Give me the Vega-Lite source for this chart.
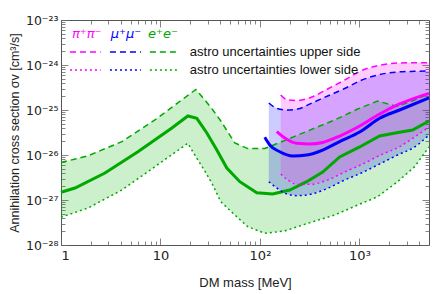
{
  "$schema": "https://vega.github.io/schema/vega-lite/v6.json",
  "width": 368,
  "height": 225,
  "autosize": {"type": "none"},
  "padding": {"left": 61, "top": 20, "right": 7, "bottom": 49},
  "config": {
    "font": "Liberation Sans",
    "view": {"stroke": "#555555", "strokeWidth": 1},
    "axis": {"grid": false, "domain": false, "tickColor": "#666666", "tickWidth": 0.8, "labelColor": "#222222", "titleColor": "#222222", "labelFont": "Liberation Sans", "titleFont": "Liberation Sans", "titleFontWeight": "normal"}
  },
  "datasets": {
    "greenBand": [
      {"m": 1, "lo": 4.13e-28, "hi": 6.8e-27},
      {"m": 1.867, "lo": 6.64e-28, "hi": 9.6e-27},
      {"m": 4.097, "lo": 1.67e-27, "hi": 1.98e-26},
      {"m": 8.787, "lo": 5.50e-27, "hi": 6.0e-26},
      {"m": 18.84, "lo": 1.82e-26, "hi": 2.11e-25},
      {"m": 22.67, "lo": 9.17e-27, "hi": 2.86e-25},
      {"m": 27.92, "lo": 4.41e-27, "hi": 1.67e-25},
      {"m": 33.58, "lo": 2.15e-27, "hi": 1.0e-25},
      {"m": 40.41, "lo": 9.16e-28, "hi": 5.70e-26},
      {"m": 55.85, "lo": 4.64e-28, "hi": 1.85e-26},
      {"m": 75.43, "lo": 2.55e-28, "hi": 1.39e-26},
      {"m": 111.7, "lo": 1.82e-28, "hi": 1.39e-26},
      {"m": 177.4, "lo": 2.05e-28, "hi": 2.10e-26},
      {"m": 302, "lo": 3.03e-28, "hi": 3.42e-26},
      {"m": 563.6, "lo": 4.64e-28, "hi": 6.0e-26},
      {"m": 959.2, "lo": 7.74e-28, "hi": 1.05e-25},
      {"m": 1523, "lo": 1.18e-27, "hi": 1.58e-25},
      {"m": 2418, "lo": 2.55e-27, "hi": 1.20e-25},
      {"m": 3583, "lo": 5.50e-27, "hi": 1.67e-25},
      {"m": 5000, "lo": 1.51e-26, "hi": 2.27e-25}
    ],
    "greenMid": [
      {"m": 1, "v": 1.483e-27},
      {"m": 1.382, "v": 1.849e-27},
      {"m": 2.766, "v": 3.98e-27},
      {"m": 5.932, "v": 1.183e-26},
      {"m": 13.02, "v": 3.98e-26},
      {"m": 18.84, "v": 7.36e-26},
      {"m": 23.2, "v": 6.54e-26},
      {"m": 29.24, "v": 3.08e-26},
      {"m": 36.85, "v": 1.29e-26},
      {"m": 46.42, "v": 5.14e-27},
      {"m": 62.69, "v": 2.55e-27},
      {"m": 92.88, "v": 1.45e-27},
      {"m": 134.4, "v": 1.36e-27},
      {"m": 199.2, "v": 1.67e-27},
      {"m": 250.9, "v": 2.15e-27},
      {"m": 295.1, "v": 2.55e-27},
      {"m": 427.0, "v": 4.19e-27},
      {"m": 632.6, "v": 9.03e-27},
      {"m": 1004.6, "v": 1.51e-26},
      {"m": 1595, "v": 2.64e-26},
      {"m": 2363, "v": 3.13e-26},
      {"m": 3421, "v": 3.59e-26},
      {"m": 5000, "v": 5.70e-26}
    ],
    "blueBand": [
      {"m": 122.6, "lo": 2.55e-27, "hi": 1.43e-25},
      {"m": 147.5, "lo": 1.85e-27, "hi": 1.09e-25},
      {"m": 185.8, "lo": 1.36e-27, "hi": 1.0e-25},
      {"m": 239.6, "lo": 1.25e-27, "hi": 1.05e-25},
      {"m": 323.6, "lo": 1.34e-27, "hi": 1.39e-25},
      {"m": 479.3, "lo": 1.82e-27, "hi": 2.05e-25},
      {"m": 710.2, "lo": 2.78e-27, "hi": 3.0e-25},
      {"m": 1028, "lo": 3.92e-27, "hi": 4.52e-25},
      {"m": 1523, "lo": 6.0e-27, "hi": 6.0e-25},
      {"m": 2418, "lo": 1.0e-26, "hi": 6.99e-25},
      {"m": 3583, "lo": 1.51e-26, "hi": 7.24e-25},
      {"m": 5000, "lo": 2.78e-26, "hi": 7.36e-25}
    ],
    "blueMid": [
      {"m": 111.7, "v": 2.47e-26},
      {"m": 125.4, "v": 1.67e-26},
      {"m": 158.1, "v": 1.18e-26},
      {"m": 213.5, "v": 9.5e-27},
      {"m": 295.1, "v": 1.0e-26},
      {"m": 427, "v": 1.29e-26},
      {"m": 632.6, "v": 1.98e-26},
      {"m": 1004.6, "v": 3.24e-26},
      {"m": 1595, "v": 6.54e-26},
      {"m": 2533, "v": 1.0e-25},
      {"m": 5000, "v": 1.85e-25}
    ],
    "magBand": [
      {"m": 161.8, "lo": 3.78e-27, "hi": 2.15e-25},
      {"m": 190.1, "lo": 2.78e-27, "hi": 1.67e-25},
      {"m": 239.6, "lo": 2.22e-27, "hi": 1.63e-25},
      {"m": 323.6, "lo": 2.23e-27, "hi": 1.90e-25},
      {"m": 479.3, "lo": 2.78e-27, "hi": 2.93e-25},
      {"m": 710.2, "lo": 4.19e-27, "hi": 4.64e-25},
      {"m": 1028, "lo": 6.0e-27, "hi": 7.36e-25},
      {"m": 1633, "lo": 1.0e-26, "hi": 1.0e-24},
      {"m": 2533, "lo": 1.53e-26, "hi": 1.108e-24},
      {"m": 3583, "lo": 2.51e-26, "hi": 1.125e-24},
      {"m": 5000, "lo": 4.25e-26, "hi": 1.125e-24}
    ],
    "magMid": [
      {"m": 147.5, "v": 3.30e-26},
      {"m": 185.8, "v": 2.23e-26},
      {"m": 234.1, "v": 1.82e-26},
      {"m": 316.2, "v": 1.76e-26},
      {"m": 427, "v": 1.90e-26},
      {"m": 632.6, "v": 2.64e-26},
      {"m": 1004.6, "v": 4.41e-26},
      {"m": 1595, "v": 8.15e-26},
      {"m": 2533, "v": 1.36e-25},
      {"m": 5000, "v": 2.35e-25}
    ],
    "legendRules": [
      {"ch": "pi", "m1": 1.231, "m2": 2.504, "row": "upper", "v": 1.945e-24},
      {"ch": "mu", "m1": 3.105, "m2": 6.356, "row": "upper", "v": 1.945e-24},
      {"ch": "e", "m1": 7.828, "m2": 15.66, "row": "upper", "v": 1.945e-24},
      {"ch": "pi", "m1": 1.231, "m2": 2.504, "row": "lower", "v": 7.74e-25},
      {"ch": "mu", "m1": 3.105, "m2": 6.356, "row": "lower", "v": 7.74e-25},
      {"ch": "e", "m1": 7.828, "m2": 15.66, "row": "lower", "v": 7.74e-25}
    ],
    "legendNames": [
      {"ch": "pi", "label": "π⁺π⁻", "m": 1.811, "v": 4.89e-24},
      {"ch": "mu", "label": "μ⁺μ⁻", "m": 4.494, "v": 4.89e-24},
      {"ch": "e", "label": "e⁺e⁻", "m": 10.57, "v": 4.89e-24}
    ],
    "legendDesc": [
      {"label": "astro uncertainties upper side", "m": 19.73, "v": 1.945e-24},
      {"label": "astro uncertainties lower side", "m": 19.73, "v": 7.74e-25}
    ]
  },
  "layer": [
    {
      "data": {"name": "greenBand"},
      "mark": {"type": "area", "color": "#00b000", "opacity": 0.2},
      "encoding": {
        "x": {"field": "m", "type": "quantitative", "scale": {"type": "log", "domain": [1, 5000], "nice": false},
          "axis": {"orient": "bottom", "values": [1, 10, 100, 1000], "ticks": false, "labelPadding": 4, "labelFontSize": 13, "labelFont": "DejaVu Sans",
            "labelExpr": "datum.value < 5 ? '1' : datum.value < 50 ? '10' : datum.value < 500 ? '10²' : '10³'",
            "title": "DM mass [MeV]", "titleFontSize": 13, "titlePadding": 14}},
        "y": {"field": "hi", "type": "quantitative", "scale": {"type": "log", "domain": [1e-28, 1e-23], "nice": false},
          "axis": {"orient": "left", "values": [1e-28, 1e-27, 1e-26, 1e-25, 1e-24, 1e-23], "ticks": false, "labelPadding": 3, "labelFontSize": 12.5, "labelFont": "DejaVu Sans",
            "labelExpr": "datum.value < 5e-28 ? '10⁻²⁸' : datum.value < 5e-27 ? '10⁻²⁷' : datum.value < 5e-26 ? '10⁻²⁶' : datum.value < 5e-25 ? '10⁻²⁵' : datum.value < 5e-24 ? '10⁻²⁴' : '10⁻²³'",
            "title": "Annihilation cross section σv [cm³/s]", "titleFontSize": 12.5, "titlePadding": 4}},
        "y2": {"field": "lo"}
      }
    },
    {
      "data": {"name": "blueBand"},
      "mark": {"type": "area", "color": "#0000ff", "opacity": 0.2},
      "encoding": {
        "x": {"field": "m", "type": "quantitative", "scale": {"type": "log", "domain": [1, 5000], "nice": false},
          "axis": {"orient": "bottom", "values": [1, 10, 100, 1000], "labels": false, "tickSize": -7, "title": null}},
        "y": {"field": "hi", "type": "quantitative", "scale": {"type": "log", "domain": [1e-28, 1e-23], "nice": false},
          "axis": {"orient": "left", "values": [1e-28, 1e-27, 1e-26, 1e-25, 1e-24, 1e-23], "labels": false, "tickSize": -7, "title": null}},
        "y2": {"field": "lo"}
      }
    },
    {
      "data": {"name": "magBand"},
      "mark": {"type": "area", "color": "#ff00ff", "opacity": 0.2},
      "encoding": {
        "x": {"field": "m", "type": "quantitative", "scale": {"type": "log", "domain": [1, 5000], "nice": false},
          "axis": {"orient": "bottom", "values": [2,3,4,5,6,7,8,9,20,30,40,50,60,70,80,90,200,300,400,500,600,700,800,900,2000,3000,4000], "labels": false, "tickSize": -4, "title": null}},
        "y": {"field": "hi", "type": "quantitative", "scale": {"type": "log", "domain": [1e-28, 1e-23], "nice": false},
          "axis": {"orient": "left", "values": [2e-28,3e-28,4e-28,5e-28,6e-28,7e-28,8e-28,9e-28,2e-27,3e-27,4e-27,5e-27,6e-27,7e-27,8e-27,9e-27,2e-26,3e-26,4e-26,5e-26,6e-26,7e-26,8e-26,9e-26,2e-25,3e-25,4e-25,5e-25,6e-25,7e-25,8e-25,9e-25,2e-24,3e-24,4e-24,5e-24,6e-24,7e-24,8e-24,9e-24], "labels": false, "tickSize": -4, "title": null}},
        "y2": {"field": "lo"}
      }
    },
    {
      "data": {"name": "greenBand"},
      "mark": {"type": "line", "color": "#00a800", "strokeWidth": 1.5, "strokeDash": [6, 4]},
      "encoding": {
        "x": {"field": "m", "type": "quantitative", "scale": {"type": "log", "domain": [1, 5000], "nice": false},
          "axis": {"orient": "top", "values": [1, 10, 100, 1000], "labels": false, "tickSize": -7, "title": null}},
        "y": {"field": "hi", "type": "quantitative", "scale": {"type": "log", "domain": [1e-28, 1e-23], "nice": false},
          "axis": {"orient": "right", "values": [1e-28, 1e-27, 1e-26, 1e-25, 1e-24, 1e-23], "labels": false, "tickSize": -7, "title": null}}
      }
    },
    {
      "data": {"name": "greenBand"},
      "mark": {"type": "line", "color": "#00a800", "strokeWidth": 1.5, "strokeDash": [2, 3]},
      "encoding": {
        "x": {"field": "m", "type": "quantitative", "scale": {"type": "log", "domain": [1, 5000], "nice": false},
          "axis": {"orient": "top", "values": [2,3,4,5,6,7,8,9,20,30,40,50,60,70,80,90,200,300,400,500,600,700,800,900,2000,3000,4000], "labels": false, "tickSize": -4, "title": null}},
        "y": {"field": "lo", "type": "quantitative", "scale": {"type": "log", "domain": [1e-28, 1e-23], "nice": false},
          "axis": {"orient": "right", "values": [2e-28,3e-28,4e-28,5e-28,6e-28,7e-28,8e-28,9e-28,2e-27,3e-27,4e-27,5e-27,6e-27,7e-27,8e-27,9e-27,2e-26,3e-26,4e-26,5e-26,6e-26,7e-26,8e-26,9e-26,2e-25,3e-25,4e-25,5e-25,6e-25,7e-25,8e-25,9e-25,2e-24,3e-24,4e-24,5e-24,6e-24,7e-24,8e-24,9e-24], "labels": false, "tickSize": -4, "title": null}}
      }
    },
    {
      "data": {"name": "greenMid"},
      "mark": {"type": "line", "color": "#00a800", "strokeWidth": 3},
      "encoding": {
        "x": {"field": "m", "type": "quantitative", "scale": {"type": "log", "domain": [1, 5000], "nice": false}, "axis": null},
        "y": {"field": "v", "type": "quantitative", "scale": {"type": "log", "domain": [1e-28, 1e-23], "nice": false}, "axis": null}
      }
    },
    {
      "data": {"name": "blueBand"},
      "mark": {"type": "line", "color": "#0000ff", "strokeWidth": 1.5, "strokeDash": [6, 4], "interpolate": "monotone"},
      "encoding": {
        "x": {"field": "m", "type": "quantitative", "scale": {"type": "log", "domain": [1, 5000], "nice": false}, "axis": null},
        "y": {"field": "hi", "type": "quantitative", "scale": {"type": "log", "domain": [1e-28, 1e-23], "nice": false}, "axis": null}
      }
    },
    {
      "data": {"name": "blueBand"},
      "mark": {"type": "line", "color": "#0000ff", "strokeWidth": 1.5, "strokeDash": [2, 3], "interpolate": "monotone"},
      "encoding": {
        "x": {"field": "m", "type": "quantitative", "scale": {"type": "log", "domain": [1, 5000], "nice": false}, "axis": null},
        "y": {"field": "lo", "type": "quantitative", "scale": {"type": "log", "domain": [1e-28, 1e-23], "nice": false}, "axis": null}
      }
    },
    {
      "data": {"name": "magBand"},
      "mark": {"type": "line", "color": "#ff00ff", "strokeWidth": 1.5, "strokeDash": [6, 4], "interpolate": "monotone"},
      "encoding": {
        "x": {"field": "m", "type": "quantitative", "scale": {"type": "log", "domain": [1, 5000], "nice": false}, "axis": null},
        "y": {"field": "hi", "type": "quantitative", "scale": {"type": "log", "domain": [1e-28, 1e-23], "nice": false}, "axis": null}
      }
    },
    {
      "data": {"name": "magBand"},
      "mark": {"type": "line", "color": "#ff00ff", "strokeWidth": 1.5, "strokeDash": [2, 3], "interpolate": "monotone"},
      "encoding": {
        "x": {"field": "m", "type": "quantitative", "scale": {"type": "log", "domain": [1, 5000], "nice": false}, "axis": null},
        "y": {"field": "lo", "type": "quantitative", "scale": {"type": "log", "domain": [1e-28, 1e-23], "nice": false}, "axis": null}
      }
    },
    {
      "data": {"name": "magMid"},
      "mark": {"type": "line", "color": "#ff00ff", "strokeWidth": 3, "interpolate": "monotone"},
      "encoding": {
        "x": {"field": "m", "type": "quantitative", "scale": {"type": "log", "domain": [1, 5000], "nice": false}, "axis": null},
        "y": {"field": "v", "type": "quantitative", "scale": {"type": "log", "domain": [1e-28, 1e-23], "nice": false}, "axis": null}
      }
    },
    {
      "data": {"name": "blueMid"},
      "mark": {"type": "line", "color": "#0000ff", "strokeWidth": 3, "interpolate": "monotone"},
      "encoding": {
        "x": {"field": "m", "type": "quantitative", "scale": {"type": "log", "domain": [1, 5000], "nice": false}, "axis": null},
        "y": {"field": "v", "type": "quantitative", "scale": {"type": "log", "domain": [1e-28, 1e-23], "nice": false}, "axis": null}
      }
    },
    {
      "data": {"name": "legendRules"},
      "transform": [{"filter": "datum.row == 'upper'"}],
      "mark": {"type": "rule", "strokeWidth": 1.5, "strokeDash": [6, 4]},
      "encoding": {
        "x": {"field": "m1", "type": "quantitative", "scale": {"type": "log", "domain": [1, 5000], "nice": false}, "axis": null},
        "x2": {"field": "m2"},
        "y": {"field": "v", "type": "quantitative", "scale": {"type": "log", "domain": [1e-28, 1e-23], "nice": false}, "axis": null},
        "color": {"field": "ch", "type": "nominal", "scale": {"domain": ["pi", "mu", "e"], "range": ["#ff00ff", "#0000ff", "#00a800"]}, "legend": null}
      }
    },
    {
      "data": {"name": "legendRules"},
      "transform": [{"filter": "datum.row == 'lower'"}],
      "mark": {"type": "rule", "strokeWidth": 1.5, "strokeDash": [2, 3]},
      "encoding": {
        "x": {"field": "m1", "type": "quantitative", "scale": {"type": "log", "domain": [1, 5000], "nice": false}, "axis": null},
        "x2": {"field": "m2"},
        "y": {"field": "v", "type": "quantitative", "scale": {"type": "log", "domain": [1e-28, 1e-23], "nice": false}, "axis": null},
        "color": {"field": "ch", "type": "nominal", "scale": {"domain": ["pi", "mu", "e"], "range": ["#ff00ff", "#0000ff", "#00a800"]}, "legend": null}
      }
    },
    {
      "data": {"name": "legendNames"},
      "mark": {"type": "text", "fontSize": 13, "fontStyle": "italic", "align": "center", "baseline": "middle", "font": "DejaVu Sans"},
      "encoding": {
        "x": {"field": "m", "type": "quantitative", "scale": {"type": "log", "domain": [1, 5000], "nice": false}, "axis": null},
        "y": {"field": "v", "type": "quantitative", "scale": {"type": "log", "domain": [1e-28, 1e-23], "nice": false}, "axis": null},
        "text": {"field": "label"},
        "color": {"field": "ch", "type": "nominal", "scale": {"domain": ["pi", "mu", "e"], "range": ["#ff00ff", "#0000ff", "#22bb22"]}, "legend": null}
      }
    },
    {
      "data": {"name": "legendDesc"},
      "mark": {"type": "text", "fontSize": 13, "align": "left", "baseline": "middle", "color": "#111111"},
      "encoding": {
        "x": {"field": "m", "type": "quantitative", "scale": {"type": "log", "domain": [1, 5000], "nice": false}, "axis": null},
        "y": {"field": "v", "type": "quantitative", "scale": {"type": "log", "domain": [1e-28, 1e-23], "nice": false}, "axis": null},
        "text": {"field": "label"}
      }
    }
  ],
  "resolve": {"axis": {"x": "independent", "y": "independent"}}
}
